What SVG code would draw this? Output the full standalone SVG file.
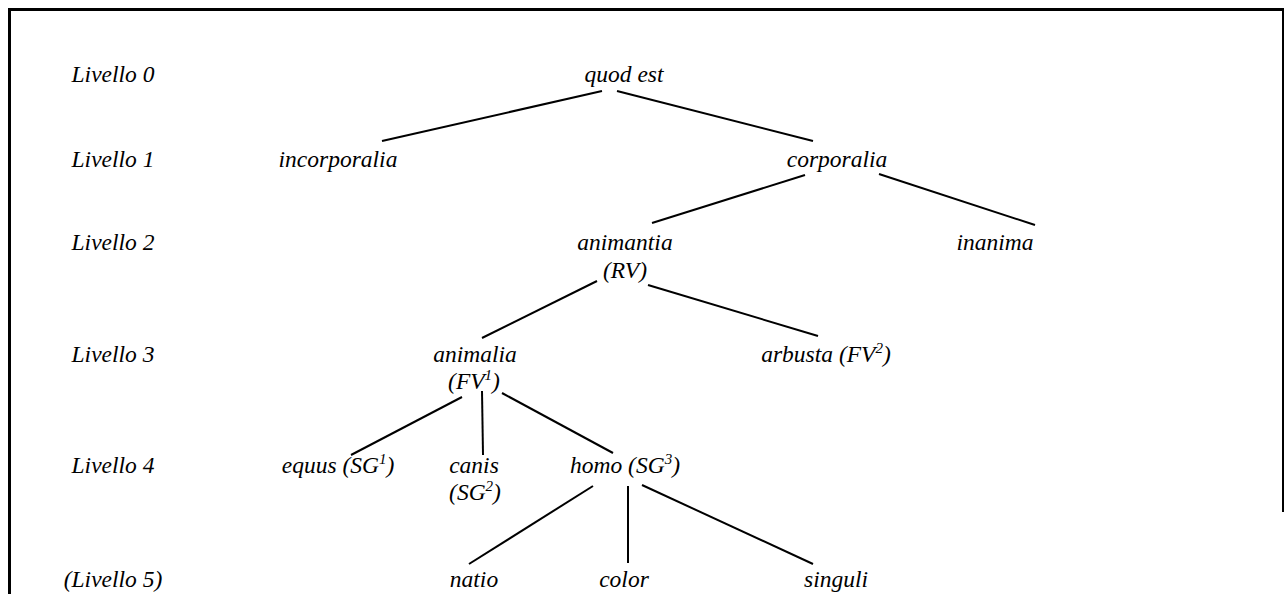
<svg xmlns="http://www.w3.org/2000/svg" width="1284" height="594" viewBox="0 0 1284 594">
<style>
text{font-family:"Liberation Serif","Times New Roman",serif;font-style:italic;font-size:23.5px;fill:#000}
.n{text-anchor:middle}
.sup{font-size:15px}
.e{stroke:#000;stroke-width:2;fill:none;stroke-linecap:butt}
.b{stroke:#000;stroke-width:3;fill:none}
</style>
<rect width="1284" height="594" fill="#fff"/>
<g id="frame">
<path class="b" d="M9.5 594 V9.5 H1284"/>
<path d="M1283 9 V512" stroke="#000" stroke-width="2"/>
</g>
<g id="levels">
<text x="113" y="82" class="n">Livello 0</text>
<text x="113" y="167" class="n">Livello 1</text>
<text x="113" y="250" class="n">Livello 2</text>
<text x="113" y="362" class="n">Livello 3</text>
<text x="113" y="473" class="n">Livello 4</text>
<text x="113" y="587" class="n">(Livello 5)</text>
</g>
<g id="connectors">
<line class="e" x1="602" y1="91" x2="382" y2="141"/>
<line class="e" x1="617" y1="91" x2="813" y2="141"/>
<line class="e" x1="805" y1="175" x2="652" y2="223"/>
<line class="e" x1="879" y1="174" x2="1035" y2="225"/>
<line class="e" x1="597" y1="281" x2="482" y2="338"/>
<line class="e" x1="648" y1="285" x2="818" y2="336"/>
<line class="e" x1="462" y1="397" x2="351" y2="455"/>
<line class="e" x1="482" y1="391" x2="483" y2="455"/>
<line class="e" x1="502" y1="393" x2="613" y2="453"/>
<line class="e" x1="593" y1="486" x2="469" y2="564"/>
<line class="e" x1="628" y1="486" x2="628" y2="563"/>
<line class="e" x1="642" y1="485" x2="813" y2="564"/>
</g>
<g id="quod-est"><text x="624" y="82" class="n">quod est</text></g>
<g id="incorporalia"><text x="338" y="167" class="n">incorporalia</text></g>
<g id="corporalia"><text x="837" y="167" class="n">corporalia</text></g>
<g id="animantia"><text x="625" y="250" class="n">animantia</text><text x="625" y="278" class="n">(RV)</text></g>
<g id="inanima"><text x="995" y="250" class="n">inanima</text></g>
<g id="animalia"><text x="475" y="362" class="n">animalia</text><text x="474" y="389" class="n">(FV<tspan class="sup" dy="-9">1</tspan><tspan dy="9">)</tspan></text></g>
<g id="arbusta"><text x="826" y="362" class="n">arbusta (FV<tspan class="sup" dy="-9">2</tspan><tspan dy="9">)</tspan></text></g>
<g id="equus"><text x="338" y="473" class="n">equus (SG<tspan class="sup" dy="-9">1</tspan><tspan dy="9">)</tspan></text></g>
<g id="canis"><text x="474" y="473" class="n">canis</text><text x="475" y="500" class="n">(SG<tspan class="sup" dy="-9">2</tspan><tspan dy="9">)</tspan></text></g>
<g id="homo"><text x="625" y="473" class="n">homo (SG<tspan class="sup" dy="-9">3</tspan><tspan dy="9">)</tspan></text></g>
<g id="natio"><text x="474" y="587" class="n">natio</text></g>
<g id="color"><text x="624" y="587" class="n">color</text></g>
<g id="singuli"><text x="836" y="587" class="n">singuli</text></g>
</svg>
